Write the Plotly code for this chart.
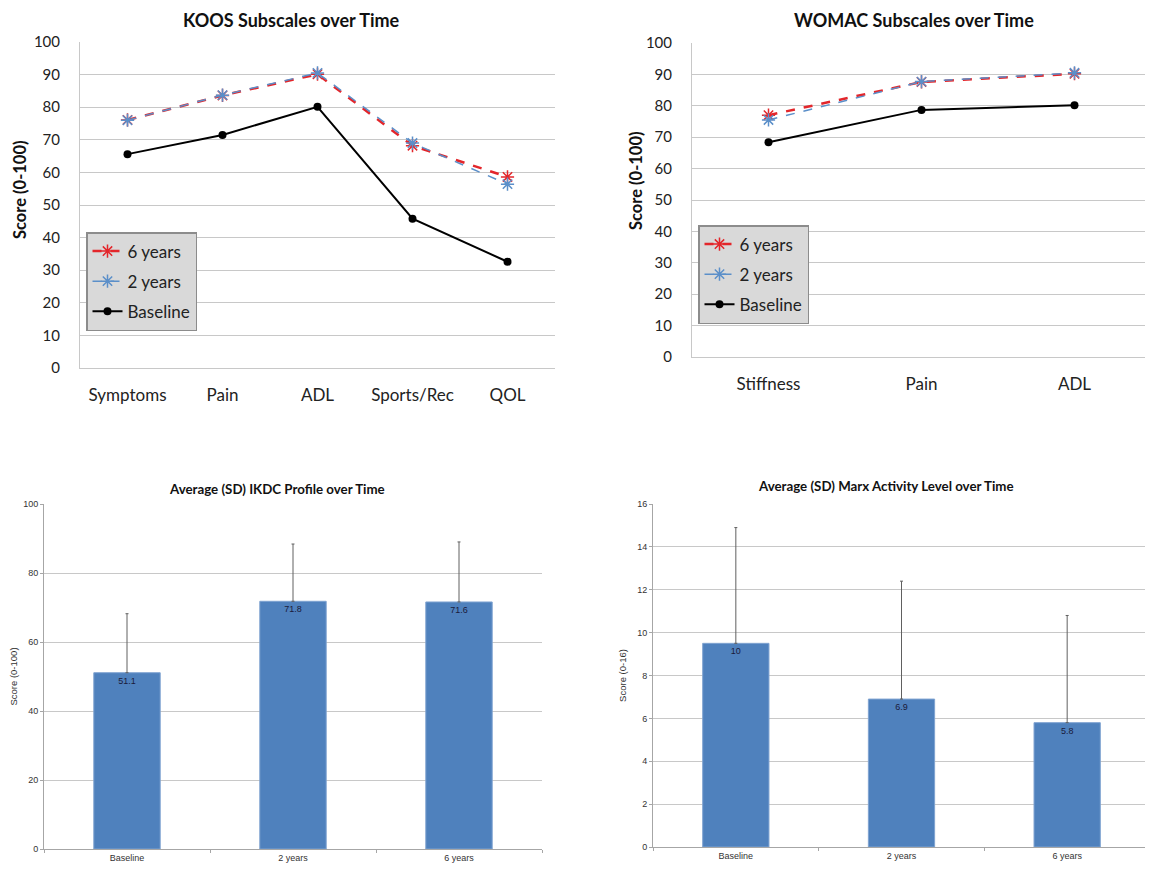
import plotly.graph_objects as go

# page is shown with an 8px body margin; figure sized to fit the window
OFF = 8
FW, FH = 1153 - OFF, 869 - OFF

# ---------------- data ----------------
koos_cats = ["Symptoms", "Pain", "ADL", "Sports/Rec", "QOL"]
koos_baseline = [65.6, 71.5, 80.1, 45.8, 32.6]
koos_2yr = [76.0, 83.7, 90.5, 69.0, 56.4]
koos_6yr = [76.1, 83.6, 90.1, 68.2, 58.6]

womac_cats = ["Stiffness", "Pain", "ADL"]
womac_baseline = [68.4, 78.7, 80.2]
womac_2yr = [75.5, 87.7, 90.5]
womac_6yr = [77.0, 87.6, 90.2]

time_cats = ["Baseline", "2 years", "6 years"]
ikdc_mean = [51.1, 71.8, 71.6]
ikdc_sd = [17.1, 16.6, 17.4]
ikdc_labels = ["51.1", "71.8", "71.6"]

marx_mean = [9.5, 6.9, 5.8]
marx_sd = [5.4, 5.5, 5.0]
marx_labels = ["10", "6.9", "5.8"]

# ---------------- helpers ----------------
def fx(p):
    return (p - OFF) / FW

def fy(p):
    return 1 - (p - OFF) / FH

def px_x(a, b):
    return [fx(a), fx(b)]

def px_y(top, bottom):
    return [fy(bottom), fy(top)]

RED = "#e3262b"
BLUE = "#5b8fc9"
BARC = "#4f81bd"
GRID = "#c8c8c8"
FONT_TOP = "Lato"
FONT_BOT = "Liberation Sans"

fig = go.Figure()

def line_traces(cats, base, y6, y2, xa, ya, leg, g):
    fig.add_trace(go.Scatter(x=cats, y=base, name="Baseline", mode="lines+markers",
                             line=dict(color="black", width=2),
                             marker=dict(symbol="circle", size=8, color="black"),
                             xaxis=xa, yaxis=ya, legend=leg, legendrank=3, legendgroup=g + "3"))
    fig.add_trace(go.Scatter(x=cats, y=y6, name="6 years", mode="lines+markers",
                             line=dict(color=RED, width=2.5, dash="dash"),
                             marker=dict(symbol="asterisk-open", size=11, line=dict(color=RED, width=1.5)),
                             xaxis=xa, yaxis=ya, legend=leg, legendrank=1, legendgroup=g + "1"))
    fig.add_trace(go.Scatter(x=cats, y=y2, name="2 years", mode="lines+markers",
                             line=dict(color=BLUE, width=1.5, dash="dash"),
                             marker=dict(symbol="asterisk-open", size=11, line=dict(color=BLUE, width=1.5)),
                             xaxis=xa, yaxis=ya, legend=leg, legendrank=2, legendgroup=g + "2"))

line_traces(koos_cats, koos_baseline, koos_6yr, koos_2yr, "x", "y", "legend", "k")
line_traces(womac_cats, womac_baseline, womac_6yr, womac_2yr, "x2", "y2", "legend2", "w")

def bar_trace(means, sds, labels, xa, ya):
    fig.add_trace(go.Bar(x=time_cats, y=means, text=labels, textposition="inside",
                         insidetextanchor="end", textfont=dict(family=FONT_BOT, size=9, color="#1a1a3a"),
                         marker=dict(color=BARC, line=dict(color="#7fa3d1", width=1)), width=0.4,
                         error_y=dict(type="data", array=sds, arrayminus=[0] * len(sds), symmetric=False,
                                      color="#606060", thickness=1, width=1.5),
                         xaxis=xa, yaxis=ya, showlegend=False, cliponaxis=False))

bar_trace(ikdc_mean, ikdc_sd, ikdc_labels, "x3", "y3")
bar_trace(marx_mean, marx_sd, marx_labels, "x4", "y4")

top_ytick = dict(family=FONT_TOP, size=15, color="#222222")
top_xtick = dict(family=FONT_TOP, size=17, color="#222222")
bot_tick = dict(family=FONT_BOT, size=9, color="#333333")

legend_common = dict(bgcolor="#d9d9d9", bordercolor="#8c8c8c", borderwidth=1.5,
                     font=dict(family=FONT_TOP, size=17, color="#222222"),
                     xanchor="left", yanchor="top", tracegroupgap=5, itemwidth=30,
                     traceorder="grouped")

def top_x(dom, y, n):
    return dict(domain=dom, anchor=y, tickfont=top_xtick, showgrid=False, automargin=False,
                range=[-0.5, n - 0.5], showline=True, linecolor=GRID, ticks="", ticklabelstandoff=12)

def top_y(dom, x):
    return dict(domain=dom, anchor=x, range=[0, 100], dtick=10, tickfont=top_ytick, automargin=False,
                showgrid=True, gridcolor=GRID, gridwidth=1.2, showline=True, linecolor=GRID,
                zeroline=False, ticklabelstandoff=16)

def bot_x(dom, y):
    return dict(domain=dom, anchor=y, tickfont=bot_tick, showgrid=False, automargin=False,
                showline=True, linecolor="#a6a6a6", ticks="outside", tickson="boundaries",
                ticklen=3, tickcolor="#a6a6a6")

def bot_y(dom, x, rng, dt, title):
    return dict(domain=dom, anchor=x, range=rng, dtick=dt, tickfont=bot_tick, automargin=False,
                showgrid=True, gridcolor=GRID, showline=True, linecolor="#a6a6a6", zeroline=False,
                ticks="outside", ticklen=3, tickcolor="#a6a6a6",
                title=dict(text=title, font=dict(family=FONT_BOT, size=9.5, color="#333333"),
                           standoff=8))

fig.update_layout(
    width=FW, height=FH, margin=dict(l=0, r=0, t=0, b=0, pad=0, autoexpand=False),
    paper_bgcolor="white", plot_bgcolor="white",
    font=dict(family=FONT_TOP),
    xaxis=top_x(px_x(80, 555), "y", len(koos_cats)),
    yaxis=top_y(px_y(42, 368), "x"),
    xaxis2=top_x(px_x(692, 1151), "y2", len(womac_cats)),
    yaxis2=top_y(px_y(43, 357), "x2"),
    xaxis3=bot_x(px_x(44, 542), "y3"),
    yaxis3=bot_y(px_y(504, 849), "x3", [0, 100], 20, "Score (0-100)"),
    xaxis4=bot_x(px_x(653, 1150), "y4"),
    yaxis4=bot_y(px_y(504, 847), "x4", [0, 16], 2, "Score (0-16)"),
    legend=dict(x=fx(86), y=fy(232), **legend_common),
    legend2=dict(x=fx(698), y=fy(225), **legend_common),
)

# chart titles
for text, cx in [("<b>KOOS Subscales over Time</b>", 291), ("<b>WOMAC Subscales over Time</b>", 914)]:
    fig.add_annotation(text=text, x=fx(cx), y=1, xref="paper", yref="paper",
                       xanchor="center", yanchor="top", showarrow=False, borderpad=0,
                       font=dict(family=FONT_TOP, size=18, color="#111111"))
for text, cx, cy in [("<b>Average (SD) IKDC Profile over Time</b>", 277, 489),
                     ("<b>Average (SD) Marx Activity Level over Time</b>", 886, 486)]:
    fig.add_annotation(text=text, x=fx(cx), y=fy(cy), xref="paper", yref="paper",
                       xanchor="center", yanchor="middle", showarrow=False,
                       font=dict(family=FONT_TOP, size=13.3, color="#111111"))

# top y-axis titles
for cx, cy in [(20, 190), (636, 181)]:
    fig.add_annotation(text="<b>Score (0-100)</b>", x=fx(cx), y=fy(cy), xref="paper", yref="paper",
                       xanchor="center", yanchor="middle", showarrow=False, textangle=-90,
                       font=dict(family=FONT_TOP, size=16.5, color="#111111"))

fig.write_html("out.html")
